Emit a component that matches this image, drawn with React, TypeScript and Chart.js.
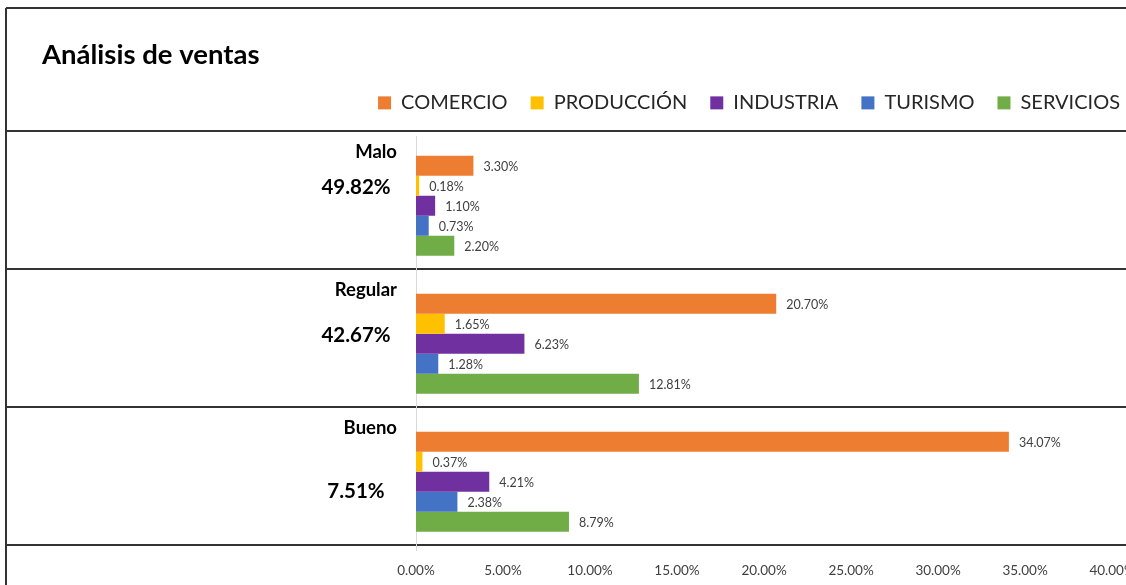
import React, { useEffect, useRef } from "react";
import { Chart, registerables } from "chart.js";

Chart.register(...registerables);

const categories = ["Malo", "Regular", "Bueno"];
const totals = [49.82, 42.67, 7.51];
const comercio = [3.3, 20.7, 34.07];
const produccion = [0.18, 1.65, 0.37];
const industria = [1.1, 6.23, 4.21];
const turismo = [0.73, 1.28, 2.38];
const servicios = [2.2, 12.81, 8.79];
const seriesNames = ["COMERCIO", "PRODUCCIÓN", "INDUSTRIA", "TURISMO", "SERVICIOS"];
const seriesColors = ["#ED7D31", "#FFC000", "#7030A0", "#4472C4", "#70AD47"];
const xTickStep = 5;
const xTickMax = 40;

const FONT = "Lato, 'Liberation Sans', sans-serif";

const fmt = (v: number) => v.toFixed(2) + "%";

const tablePlugin = {
  id: "tableLines",
  beforeDraw(chart: any) {
    const { ctx } = chart;
    const y = chart.scales.y;
    const half = (y.getPixelForValue(1) - y.getPixelForValue(0)) / 2;
    ctx.save();
    ctx.strokeStyle = "#333333";
    ctx.lineWidth = 2;
    ctx.beginPath();
    ctx.moveTo(6, 8);
    ctx.lineTo(chart.width, 8);
    ctx.moveTo(6, 8);
    ctx.lineTo(6, chart.height);
    for (let i = 0; i <= categories.length; i++) {
      const yy = Math.round(y.getPixelForValue(i) - half - 6);
      ctx.moveTo(6, yy);
      ctx.lineTo(chart.width, yy);
    }
    ctx.stroke();
    ctx.restore();
  },
};

const labelsPlugin = {
  id: "valueLabels",
  afterDatasetsDraw(chart: any) {
    const { ctx, chartArea } = chart;
    ctx.save();
    ctx.textBaseline = "middle";
    ctx.fillStyle = "#404040";
    ctx.font = `12.5px ${FONT}`;
    ctx.textAlign = "left";
    chart.data.datasets.forEach((ds: any, di: number) => {
      const meta = chart.getDatasetMeta(di);
      meta.data.forEach((bar: any, i: number) => {
        ctx.fillText(fmt(ds.data[i]), bar.x + 10, bar.y + 1);
      });
    });
    const y = chart.scales.y;
    const half = (y.getPixelForValue(1) - y.getPixelForValue(0)) / 2;
    const totalOffsets = [-18, -8, 10];
    categories.forEach((c, i) => {
      const cy = y.getPixelForValue(i);
      ctx.fillStyle = "#000000";
      ctx.font = `bold 18.5px ${FONT}`;
      ctx.textAlign = "right";
      ctx.fillText(c, chartArea.left - 19, cy - half + 15);
      ctx.font = `bold 20.5px ${FONT}`;
      ctx.textAlign = "center";
      ctx.fillText(fmt(totals[i]), chartArea.left - 60, cy + totalOffsets[i]);
    });
    ctx.restore();
  },
};

export default function App() {
  const ref = useRef<HTMLCanvasElement>(null);
  useEffect(() => {
    if (!ref.current) return;
    const seriesData = [comercio, produccion, industria, turismo, servicios];
    const chart = new Chart(ref.current, {
      type: "bar",
      data: {
        labels: categories,
        datasets: seriesNames.map((n, i) => ({
          label: n,
          data: seriesData[i],
          backgroundColor: seriesColors[i],
          borderColor: seriesColors[i],
          borderWidth: 0,
          categoryPercentage: 0.7246,
          barPercentage: 1,
        })),
      },
      options: {
        indexAxis: "y",
        animation: false,
        responsive: false,
        devicePixelRatio: 1,
        layout: { padding: { left: 42, right: -17, top: 0, bottom: 7 } },
        plugins: {
          title: {
            display: true,
            text: "Análisis de ventas",
            align: "start",
            color: "#000000",
            font: { family: FONT, size: 27.5, weight: "bold", lineHeight: 1.05 },
            padding: { top: 41, bottom: 0 },
          },
          subtitle: {
            display: true,
            text: "",
            weight: 500,
            font: { family: FONT, size: 14, lineHeight: 1 },
            padding: 0,
          },
          legend: {
            display: true,
            position: "top",
            align: "end",
            labels: {
              boxWidth: 13,
              boxHeight: 13,
              padding: 23,
              color: "#262626",
              font: { family: FONT, size: 20 },
            },
          },
          tooltip: { enabled: false },
        },
        scales: {
          x: {
            type: "linear",
            position: "bottom",
            min: 0,
            max: 40.8,
            grid: { display: false, drawTicks: false },
            border: { display: false },
            ticks: {
              stepSize: xTickStep,
              includeBounds: false,
              padding: 12,
              color: "#404040",
              font: { family: FONT, size: 13.5 },
              callback: (v: any) => (Number(v) <= xTickMax ? fmt(Number(v)) : ""),
            },
            afterFit: (s: any) => {
              s.paddingRight = 0;
            },
          },
          y: {
            type: "category",
            offset: true,
            grid: { display: false, drawTicks: false },
            border: { display: true, color: "#d9d9d9", width: 1 },
            ticks: { display: false },
            afterFit: (s: any) => {
              s.width = 374;
            },
          },
        },
      },
      plugins: [tablePlugin, labelsPlugin],
    } as any);
    return () => chart.destroy();
  }, []);
  return (
    <div
      style={{
        position: "absolute",
        left: 0,
        top: 0,
        width: 1126,
        height: 585,
        overflow: "hidden",
        background: "#ffffff",
      }}
    >
      <canvas ref={ref} width={1126} height={598} style={{ display: "block" }} />
    </div>
  );
}
